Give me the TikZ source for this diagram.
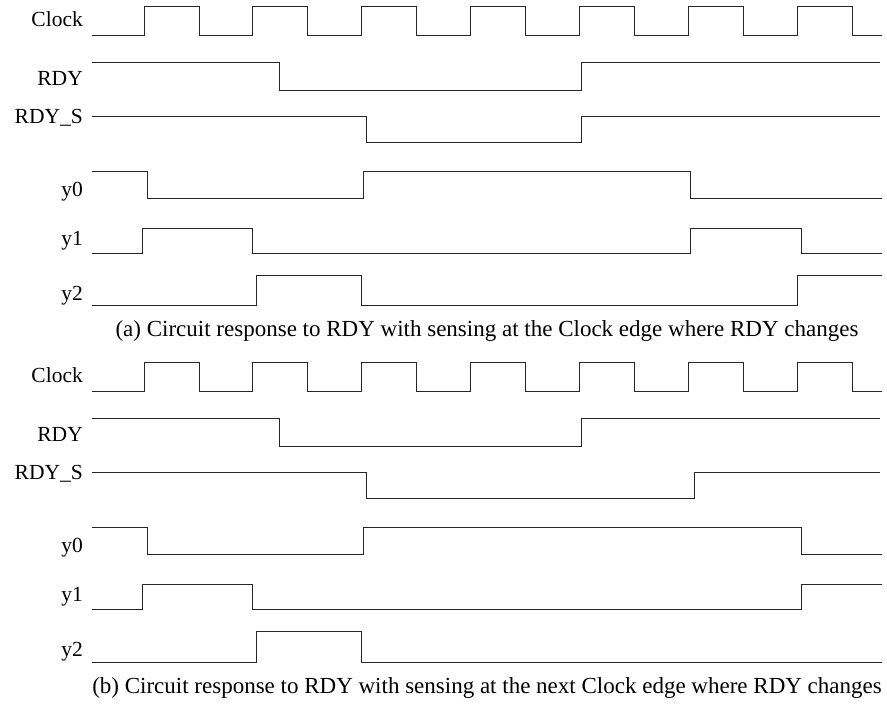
\documentclass[tikz,border=0pt]{standalone}
\usepackage{fontspec}
\setmainfont{Liberation Serif}
\begin{document}
\begin{tikzpicture}[x=1pt,y=-1pt,
  sig/.style={line width=0.9pt,color=black!85,line join=miter},
  lbl/.style={anchor=base east,inner sep=0pt,font=\fontsize{21.5}{24}\selectfont},
  captxt/.style={anchor=base,inner sep=0pt,font=\fontsize{23}{26}\selectfont}]
\useasboundingbox (0,0) rectangle (887,705);
% ---------- panel (a) ----------
\node[lbl] (clkA) at (83,26) {Clock};
\node[lbl] (rdyA) at (83,85) {RDY};
\node[lbl] (rdysA) at (83,123) {RDY\_S};
\node[lbl] (y0A) at (83,196) {y0};
\node[lbl] (y1A) at (83,245) {y1};
\node[lbl] (y2A) at (83,300) {y2};
\draw[sig] (92,35.7) -- (144,35.7) |- (199,6.3) |- (252.8,35.7) |- (307.8,6.3) |- (361.7,35.7) |- (416.7,6.3) |- (470.5,35.7) |- (525.5,6.3) |- (579.3,35.7) |- (634.3,6.3) |- (688.2,35.7) |- (743.2,6.3) |- (797,35.7) |- (852,6.3) |- (881.7,35.7);
\draw[sig] (92,62.7) -- (279.3,62.7) |- (581.7,90) |- (880,62.7);
\draw[sig] (92,116) -- (366.7,116) |- (581.7,142.7) |- (880,116);
\draw[sig] (92,171.7) -- (147,171.7) |- (363.7,198) |- (690.7,171.7) |- (881.7,198);
\draw[sig] (92,253) -- (142.7,253) |- (252.7,228) |- (690.7,253) |- (801,228) |- (881.7,253);
\draw[sig] (92,305) -- (256.7,305) |- (361.3,275.7) |- (797.3,305) |- (881.7,275.7);
\node[captxt] (capA) at (487,336.5) {(a) Circuit response to RDY with sensing at the Clock edge where RDY changes};
% ---------- panel (b) ----------
\begin{scope}[yshift=-356pt]
\node[lbl] (clkB) at (83,26) {Clock};
\node[lbl] (rdyB) at (83,85) {RDY};
\node[lbl] (rdysB) at (83,123) {RDY\_S};
\node[lbl] (y0B) at (83,196) {y0};
\node[lbl] (y1B) at (83,245) {y1};
\node[lbl] (y2B) at (83,300) {y2};
\draw[sig] (92,35.7) -- (144,35.7) |- (199,6.3) |- (252.8,35.7) |- (307.8,6.3) |- (361.7,35.7) |- (416.7,6.3) |- (470.5,35.7) |- (525.5,6.3) |- (579.3,35.7) |- (634.3,6.3) |- (688.2,35.7) |- (743.2,6.3) |- (797,35.7) |- (852,6.3) |- (881.7,35.7);
\draw[sig] (92,62.7) -- (279.3,62.7) |- (581.7,90) |- (880,62.7);
\draw[sig] (92,116) -- (366.7,116) |- (694,142.7) |- (880,116);
\draw[sig] (92,171.7) -- (147,171.7) |- (363.7,198) |- (801,171.7) |- (881.7,198);
\draw[sig] (92,253) -- (142.7,253) |- (252.7,228) |- (801,253) |- (881.7,228);
\draw[sig] (92,306) -- (256.7,306) |- (361.3,275.7) |- (881.7,306);
\node[captxt] (capB) at (487,337) {(b) Circuit response to RDY with sensing at the next Clock edge where RDY changes};
\end{scope}
\end{tikzpicture}
\end{document}
